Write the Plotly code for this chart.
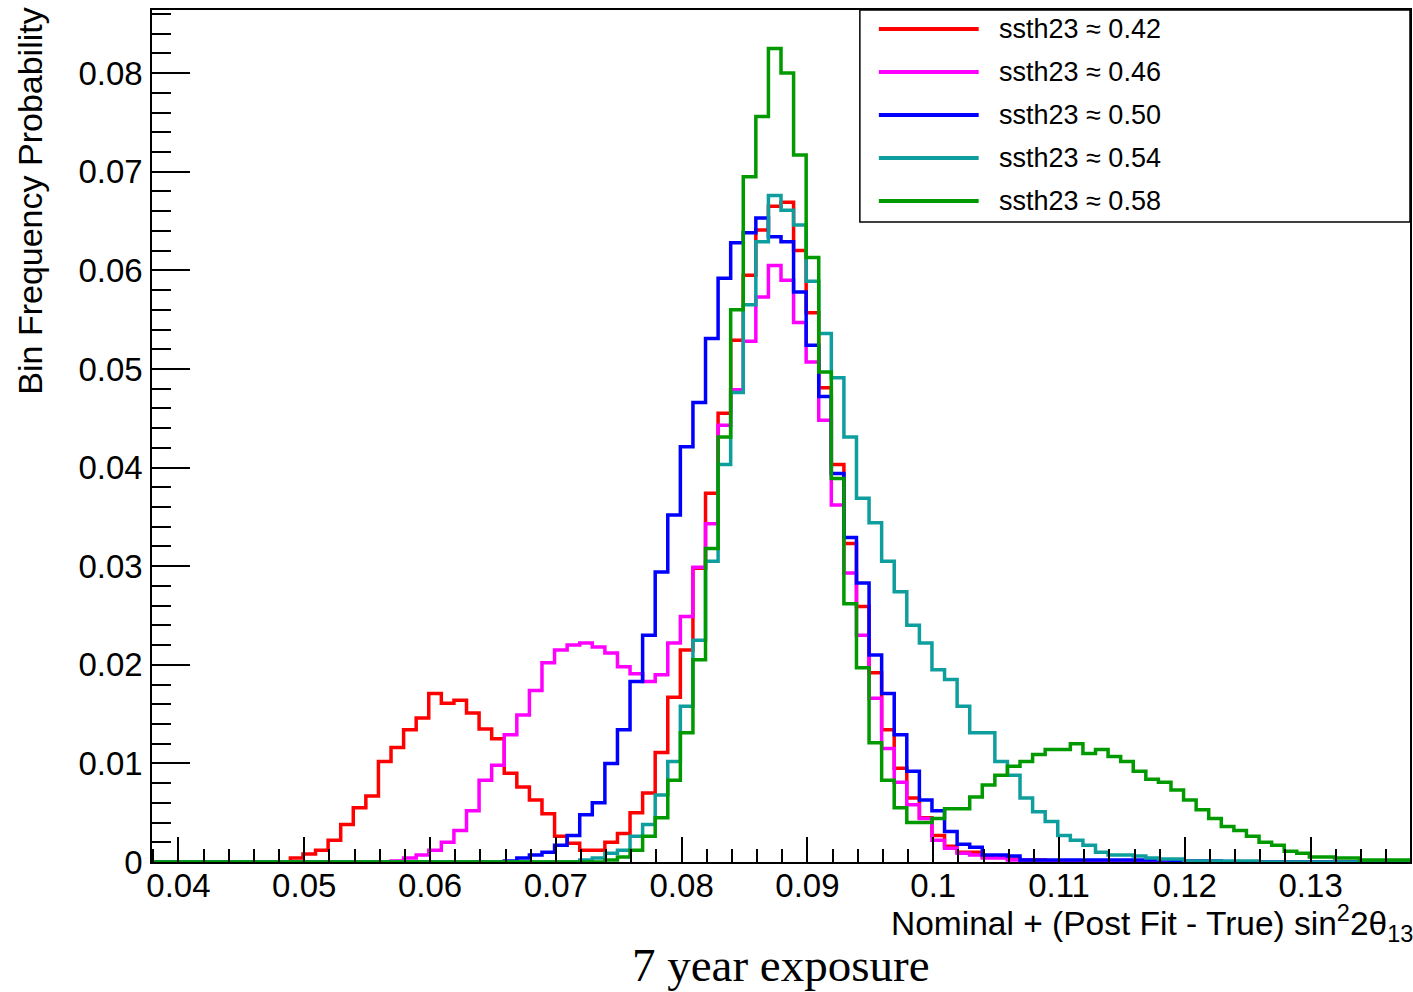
import numpy as np
import plotly.graph_objects as go

# ---- binning ----
BIN_LO = 0.0379
BIN_W = 0.001
N_BINS = 100

# ---- series (bin contents, 100 bins each) ----
red_042 = [
    0, 0, 0, 0, 0, 0, 0, 0, 0, 0,
    0, 0.0004, 0.0008, 0.0012, 0.0022, 0.0038, 0.0055, 0.0067, 0.0102, 0.0116,
    0.0134, 0.0146, 0.0171, 0.0161, 0.0164, 0.0151, 0.0135, 0.0125, 0.0090, 0.0076,
    0.0063, 0.0049, 0.0026, 0.0019, 0.0012, 0.0012, 0.0020, 0.0029, 0.0050, 0.0070,
    0.0111, 0.0167, 0.0215, 0.0298, 0.0374, 0.0455, 0.0529, 0.0595, 0.0641, 0.0665,
    0.0669, 0.0620, 0.0557, 0.0481, 0.0403, 0.0323, 0.0259, 0.0192, 0.0134, 0.0095,
    0.0065, 0.0045, 0.0027, 0.0016, 0.0010, 0.0010, 0.0005, 0.0005, 0.0003, 0.0002,
    0.0002, 0.0001, 0.0001, 0, 0, 0, 0, 0, 0, 0,
    0, 0, 0, 0, 0, 0, 0, 0, 0, 0,
    0, 0, 0, 0, 0, 0, 0, 0, 0, 0,
]
magenta_046 = [
    0, 0, 0, 0, 0, 0, 0, 0, 0, 0,
    0, 0, 0, 0, 0, 0, 0, 0, 0, 0.0001,
    0.0004, 0.0007, 0.0012, 0.0020, 0.0032, 0.0052, 0.0083, 0.0098, 0.0129, 0.0149,
    0.0174, 0.0202, 0.0215, 0.0220, 0.0222, 0.0218, 0.0212, 0.0198, 0.0191, 0.0183,
    0.0190, 0.0222, 0.0249, 0.0299, 0.0343, 0.0443, 0.0479, 0.0528, 0.0573, 0.0605,
    0.0590, 0.0547, 0.0507, 0.0448, 0.0362, 0.0293, 0.0230, 0.0166, 0.0115, 0.0081,
    0.0058, 0.0044, 0.0022, 0.0014, 0.0009, 0.0007, 0.0004, 0.0004, 0.0002, 0.0002,
    0.0001, 0.0001, 0, 0, 0, 0, 0, 0, 0, 0,
    0, 0, 0, 0, 0, 0, 0, 0, 0, 0,
    0, 0, 0, 0, 0, 0, 0, 0, 0, 0,
]
blue_050 = [
    0, 0, 0, 0, 0, 0, 0, 0, 0, 0,
    0, 0, 0, 0, 0, 0, 0, 0, 0, 0,
    0, 0, 0, 0, 0, 0, 0, 0, 0.0001, 0.0004,
    0.0007, 0.0010, 0.0017, 0.0027, 0.0048, 0.0060, 0.0100, 0.0134, 0.0183, 0.0230,
    0.0294, 0.0352, 0.0421, 0.0466, 0.0531, 0.0592, 0.0628, 0.0638, 0.0653, 0.0634,
    0.0629, 0.0578, 0.0524, 0.0472, 0.0394, 0.0329, 0.0283, 0.0210, 0.0171, 0.0129,
    0.0092, 0.0063, 0.0052, 0.0031, 0.0018, 0.0015, 0.0007, 0.0007, 0.0006, 0.0002,
    0.0002, 0.0002, 0.0002, 0.0002, 0.0002, 0.0002, 0.0002, 0.0002, 0.0002, 0.0002,
    0.0002, 0.0001, 0.0001, 0.0001, 0.0001, 0, 0, 0, 0, 0,
    0, 0, 0, 0, 0, 0, 0, 0, 0, 0,
]
cyan_054 = [
    0, 0, 0, 0, 0, 0, 0, 0, 0, 0,
    0, 0, 0, 0, 0, 0, 0, 0, 0, 0,
    0, 0, 0, 0, 0, 0, 0, 0, 0, 0,
    0, 0, 0, 0, 0.0002, 0.0004, 0.0009, 0.0012, 0.0026, 0.0038,
    0.0068, 0.0102, 0.0158, 0.0225, 0.0305, 0.0403, 0.0476, 0.0565, 0.0629, 0.0676,
    0.0661, 0.0646, 0.0589, 0.0536, 0.0491, 0.0431, 0.0369, 0.0344, 0.0305, 0.0274,
    0.0240, 0.0222, 0.0195, 0.0185, 0.0158, 0.0131, 0.0131, 0.0102, 0.0088, 0.0065,
    0.0051, 0.0041, 0.0027, 0.0022, 0.0017, 0.0010, 0.0007, 0.0007, 0.0006, 0.0004,
    0.0003, 0.0003, 0.0001, 0.0001, 0.0001, 0.0001, 0.0001, 0.0001, 0, 0,
    0, 0, 0, 0, 0, 0, 0, 0, 0, 0,
]
green_058 = [
    0, 0, 0, 0, 0, 0, 0, 0, 0, 0,
    0, 0, 0, 0, 0, 0, 0, 0, 0, 0,
    0, 0, 0, 0, 0, 0, 0, 0, 0, 0,
    0, 0, 0, 0, 0, 0, 0.0002, 0.0005, 0.0012, 0.0026,
    0.0045, 0.0083, 0.0131, 0.0205, 0.0318, 0.0431, 0.0560, 0.0695, 0.0756, 0.0825,
    0.0800, 0.0717, 0.0613, 0.0497, 0.0389, 0.0262, 0.0197, 0.0121, 0.0083, 0.0055,
    0.0040, 0.0040, 0.0044, 0.0054, 0.0054, 0.0066, 0.0078, 0.0088, 0.0097, 0.0102,
    0.0109, 0.0114, 0.0114, 0.0120, 0.0110, 0.0114, 0.0107, 0.0102, 0.0092, 0.0084,
    0.0081, 0.0073, 0.0063, 0.0053, 0.0044, 0.0036, 0.0032, 0.0026, 0.0020, 0.0017,
    0.0011, 0.0009, 0.0005, 0.0005, 0.0004, 0.0004, 0.0002, 0.0002, 0.0002, 0.0002,
]

series_labels = ["ssth23 ≈ 0.42", "ssth23 ≈ 0.46", "ssth23 ≈ 0.50",
                 "ssth23 ≈ 0.54", "ssth23 ≈ 0.58"]
series_values = [red_042, magenta_046, blue_050, cyan_054, green_058]
series_colors = ["#FF0000", "#FF00FF", "#0000FF", "#0F9E9E", "#009A00"]

x_tick_vals = [0.04, 0.05, 0.06, 0.07, 0.08, 0.09, 0.10, 0.11, 0.12, 0.13]
x_tick_text = ["0.04", "0.05", "0.06", "0.07", "0.08", "0.09", "0.1", "0.11", "0.12", "0.13"]
y_tick_vals = [0, 0.01, 0.02, 0.03, 0.04, 0.05, 0.06, 0.07, 0.08]
y_tick_text = ["0", "0.01", "0.02", "0.03", "0.04", "0.05", "0.06", "0.07", "0.08"]

X_TITLE = "Nominal + (Post Fit - True) sin<sup>2</sup>2θ<sub>13</sub>"
Y_TITLE = "Bin Frequency Probability"
CAPTION = "7 year exposure"

# ---- figure ----
edges = BIN_LO + BIN_W * np.arange(N_BINS + 1)
FONT = "Liberation Sans, Arial, Helvetica, sans-serif"

fig = go.Figure()
for name, vals, col in zip(series_labels, series_values, series_colors):
    y = list(vals) + [vals[-1]]
    fig.add_trace(go.Scatter(
        x=edges, y=y, mode="lines", name=name,
        line=dict(color=col, width=3.5, shape="hv"),
        showlegend=False, hoverinfo="skip",
    ))

W, H = 1413, 992
ML, MR, MT, MB = 152, 1, 10, 130

fig.update_layout(
    width=W, height=H,
    margin=dict(l=ML, r=MR, t=MT, b=MB, pad=0),
    paper_bgcolor="white", plot_bgcolor="white",
    font=dict(family=FONT, size=33, color="black"),
    showlegend=False,
)
fig.update_xaxes(
    range=[BIN_LO, BIN_LO + BIN_W * N_BINS],
    tickmode="array", tickvals=x_tick_vals, ticktext=x_tick_text,
    ticks="inside", ticklen=25, tickwidth=1.5, tickcolor="black",
    minor=dict(ticks="inside", ticklen=13, tickwidth=1.5, tickcolor="black",
               dtick=0.002, tick0=0.04, showgrid=False),
    showgrid=False, zeroline=False,
    showline=True, linecolor="black", linewidth=1.5, mirror=True,
    tickfont=dict(family=FONT, size=33, color="black"),
    ticklabelstandoff=-6,
)
fig.update_yaxes(
    range=[0, 0.0864],
    tickmode="array", tickvals=y_tick_vals, ticktext=y_tick_text,
    ticks="inside", ticklen=38, tickwidth=1.5, tickcolor="black",
    minor=dict(ticks="inside", ticklen=19, tickwidth=1.5, tickcolor="black",
               dtick=0.002, tick0=0, showgrid=False),
    showgrid=False, zeroline=False,
    showline=True, linecolor="black", linewidth=1.5, mirror=True,
    tickfont=dict(family=FONT, size=33, color="black"),
    ticklabelstandoff=1,
)

PW = W - ML - MR
PH = H - MT - MB
def px(xp):
    return (xp - ML) / PW
def py(yp):
    return (H - MB - yp) / PH

annotations = [
    dict(text=X_TITLE, xref="paper", yref="paper", x=1.0, y=py(923), xshift=5,
         xanchor="right", yanchor="middle", showarrow=False,
         font=dict(family=FONT, size=33.5, color="black")),
    dict(text=Y_TITLE, xref="paper", yref="paper", x=px(30), y=py(6),
         xanchor="center", yanchor="top", textangle=-90, showarrow=False,
         font=dict(family=FONT, size=34, color="black")),
    dict(text=CAPTION, xref="paper", yref="paper", x=0.5, y=py(965),
         xanchor="center", yanchor="middle", showarrow=False,
         font=dict(family="Liberation Serif, Times New Roman, serif", size=47, color="black")),
]

shapes = [
    dict(type="rect", xref="paper", yref="paper",
         x0=px(861), x1=px(1412), y0=py(222), y1=py(10),
         line=dict(color="black", width=1.5), fillcolor="white", layer="above"),
]
for i, (name, col) in enumerate(zip(series_labels, series_colors)):
    yc = 29 + 43 * i
    shapes.append(dict(type="line", xref="paper", yref="paper",
                       x0=px(880), x1=px(980), y0=py(yc), y1=py(yc),
                       line=dict(color=col, width=4), layer="above"))
    annotations.append(dict(text=name, xref="paper", yref="paper",
                            x=px(998), y=py(yc), xanchor="left", yanchor="middle",
                            showarrow=False,
                            font=dict(family=FONT, size=27, color="black")))

fig.update_layout(shapes=shapes, annotations=annotations)
fig.write_html("out.html")
